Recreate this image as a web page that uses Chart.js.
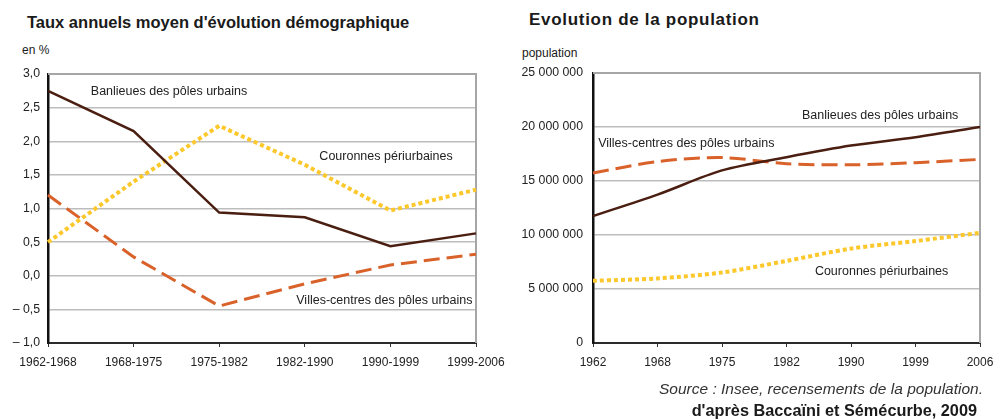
<!DOCTYPE html>
<html>
<head>
<meta charset="utf-8">
<script src="https://cdn.jsdelivr.net/npm/chart.js@4.4.1/dist/chart.umd.min.js"></script>
<style>
    body { margin: 0; width: 993px; height: 419px; position: relative; background: #fff; overflow: hidden;
           font-family: "Liberation Sans", Arial, sans-serif; color: #1a1a1a; }
    canvas { position: absolute; left: 0; top: 0; }
    .title { position: absolute; font-weight: bold; white-space: nowrap; line-height: 20px; }
    .unit { position: absolute; font-size: 12px; white-space: nowrap; line-height: 14px; }
    .src { position: absolute; right: 10px; top: 380px; font-size: 15.5px; font-style: italic; white-space: nowrap; line-height: 18px; color: #333; }
    .src2 { position: absolute; right: 16px; top: 401px; font-size: 16.3px; font-weight: bold; white-space: nowrap; line-height: 18px; }
</style>
</head>
<body>
<div class="title" style="left:27px; top:12px; font-size:16.5px;">Taux annuels moyen d'évolution démographique</div>
<div class="title" style="left:529px; top:10px; font-size:17px; letter-spacing:0.7px;">Evolution de la population</div>
<div class="unit" style="left:22px; top:43px;">en %</div>
<div class="unit" style="left:522px; top:46px;">population</div>
<canvas id="rateChart" width="993" height="419"></canvas>
<canvas id="popChart" width="993" height="419"></canvas>
<div class="src">Source : Insee, recensements de la population.</div>
<div class="src2">d'après Baccaïni et Sémécurbe, 2009</div>
<script>
document.addEventListener('DOMContentLoaded', function () {
    // left chart: annual rates, in %
    const periods = ['1962-1968', '1968-1975', '1975-1982', '1982-1990', '1990-1999', '1999-2006'];
    const rateBanlieues = [2.75, 2.15, 0.94, 0.87, 0.44, 0.63];
    const rateCouronnes = [0.50, 1.40, 2.23, 1.65, 0.97, 1.28];
    const rateVilles = [1.20, 0.28, -0.45, -0.12, 0.16, 0.32];

    // right chart: population
    const years = ['1962', '1968', '1975', '1982', '1990', '1999', '2006'];
    const popBanlieues = [11750000, 13740000, 15980000, 17200000, 18280000, 19050000, 20000000];
    const popVilles = [15740000, 16800000, 17170000, 16600000, 16500000, 16700000, 17000000];
    const popCouronnes = [5760000, 5980000, 6530000, 7600000, 8740000, 9440000, 10200000];

    // in-plot labels, in data units (x = category index)
    const rateNotes = [
        { text: 'Banlieues des pôles urbains', x: 0.50, y: 2.745 },
        { text: 'Couronnes périurbaines', x: 3.17, y: 1.77 },
        { text: 'Villes-centres des pôles urbains', x: 2.90, y: -0.37 }
    ];
    const popNotes = [
        { text: 'Banlieues des pôles urbains', x: 3.24, y: 21080000 },
        { text: 'Villes-centres des pôles urbains', x: 0.08, y: 18470000 },
        { text: 'Couronnes périurbaines', x: 3.44, y: 6620000 }
    ];

    const FONT = "'Liberation Sans', Arial, sans-serif";
    const brown = '#4a1e10', orange = '#d9622b', yellow = '#fcc82c';

    // gray frame on top and right, plus the line labels
    const framePlugin = {
        id: 'frame',
        beforeDatasetsDraw(chart) {
            const a = chart.chartArea, ctx = chart.ctx;
            ctx.save();
            ctx.strokeStyle = '#a6a6a6';
            ctx.lineWidth = 2;
            ctx.beginPath();
            ctx.moveTo(a.left, a.top);
            ctx.lineTo(a.right, a.top);
            ctx.lineTo(a.right, a.bottom);
            ctx.stroke();
            ctx.restore();
        },
        afterDatasetsDraw(chart, args, opts) {
            const ctx = chart.ctx, xs = chart.scales.x, ys = chart.scales.y;
            ctx.save();
            ctx.font = '12.5px ' + FONT;
            ctx.fillStyle = '#222';
            ctx.textBaseline = 'middle';
            ctx.textAlign = 'left';
            (opts.notes || []).forEach(n => {
                ctx.fillText(n.text, xs.getPixelForValue(n.x), ys.getPixelForValue(n.y));
            });
            ctx.restore();
        }
    };

    function fixWidth(w) {
        return function (scale) {
            scale.width = w;
            scale.paddingTop = 0; scale.paddingBottom = 0;
            scale.paddingLeft = 0; scale.paddingRight = 0;
        };
    }
    function fixHeight(h) {
        return function (scale) {
            scale.height = h;
            scale.paddingLeft = 0; scale.paddingRight = 0;
            scale.paddingTop = 0; scale.paddingBottom = 0;
        };
    }

    function lineSet(label, data, color, width, dash, tension) {
        return {
            label: label, data: data, borderColor: color, backgroundColor: color,
            borderWidth: width, borderDash: dash, pointRadius: 0, tension: tension,
            borderCapStyle: 'butt', fill: false, clip: false
        };
    }

    function axes(yOpts, yWidth, yPad) {
        return {
            x: {
                grid: { display: true, drawOnChartArea: false, drawTicks: true, tickLength: 4, color: '#333' },
                border: { display: true, color: '#2a2a2a', width: 2 },
                ticks: { color: '#222', font: { family: FONT, size: 12 }, padding: 8, autoSkip: false, maxRotation: 0 },
                afterFit: fixHeight(30)
            },
            y: Object.assign({
                grid: { color: '#bdbdbd', lineWidth: 1.5, drawTicks: false },
                border: { display: true, color: '#111', width: 2.5 },
                afterFit: fixWidth(yWidth)
            }, yOpts, {
                ticks: Object.assign({ color: '#222', font: { family: FONT, size: 12.3 }, padding: yPad, autoSkip: false }, yOpts.ticks)
            })
        };
    }

    const rateChart = new Chart(document.getElementById('rateChart'), {
        type: 'line',
        data: {
            labels: periods,
            datasets: [
                lineSet('Banlieues des pôles urbains', rateBanlieues, brown, 2.5, [], 0),
                lineSet('Couronnes périurbaines', rateCouronnes, yellow, 4, [4, 3], 0),
                lineSet('Villes-centres des pôles urbains', rateVilles, orange, 3, [16, 7], 0)
            ]
        },
        options: {
            responsive: false,
            animation: false,
            layout: { padding: { left: 0, top: 74, right: 517, bottom: 46 } },
            scales: axes({
                min: -1, max: 3,
                ticks: {
                    stepSize: 0.5,
                    callback: v => (v < -0.001 ? '\u2013 ' : '') + Math.abs(v).toFixed(1).replace('.', ',')
                }
            }, 48, 8),
            plugins: { legend: { display: false }, tooltip: { enabled: false }, frame: { notes: rateNotes } }
        },
        plugins: [framePlugin]
    });

    const popChart = new Chart(document.getElementById('popChart'), {
        type: 'line',
        data: {
            labels: years,
            datasets: [
                lineSet('Banlieues des pôles urbains', popBanlieues, brown, 2.5, [], 0.3),
                lineSet('Villes-centres des pôles urbains', popVilles, orange, 3, [16, 7], 0.3),
                lineSet('Couronnes périurbaines', popCouronnes, yellow, 4, [4, 3], 0.3)
            ]
        },
        options: {
            responsive: false,
            animation: false,
            layout: { padding: { left: 0, top: 73, right: 13, bottom: 46 } },
            scales: axes({
                min: 0, max: 25000000,
                ticks: {
                    stepSize: 5000000,
                    callback: v => String(v).replace(/\B(?=(\d{3})+(?!\d))/g, ' ')
                }
            }, 593, 10),
            plugins: { legend: { display: false }, tooltip: { enabled: false }, frame: { notes: popNotes } }
        },
        plugins: [framePlugin]
    });
});
</script>
</body>
</html>
